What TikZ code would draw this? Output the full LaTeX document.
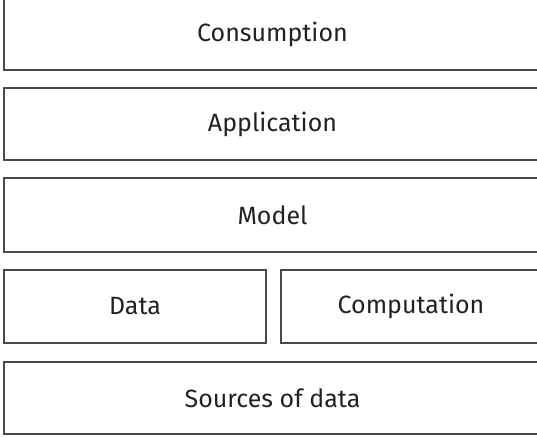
\documentclass[tikz,border=0pt]{standalone}
\usepackage{fontspec}
\setmainfont{Fira Sans}
\usepackage{tikz}
\usetikzlibrary{positioning}
\definecolor{edgegray}{HTML}{4A4A4A}
\definecolor{textgray}{HTML}{222222}

\begin{document}
\begin{tikzpicture}[x=1pt,y=1pt,
    layer/.style={draw=edgegray,line width=1.6pt,rectangle,inner sep=0pt,
      text=textgray,font=\fontsize{25}{30}\selectfont}]
    \useasboundingbox (0,0) rectangle (537,438);
    \clip (0,0) rectangle (537,438);
    \begin{scope}[shift={(0,0)}]
      \node[layer,minimum width=537,minimum height=72] (cons) at (272.5,404) {Consumption};
      \node[layer,minimum width=537,minimum height=72] (app) at (272.5,314) {Application};
      \node[layer,minimum width=537,minimum height=74] (model) at (272.5,223) {Model};
      \node[layer,minimum width=262,minimum height=73] (data) at (135,131.5) {Data};
      \node[layer,minimum width=260,minimum height=73] (comp) at (411,131.5) {Computation};
      \node[layer,minimum width=537,minimum height=72] (src) at (272.5,40) {Sources of data};
    \end{scope}
  \end{tikzpicture}
\end{document}
